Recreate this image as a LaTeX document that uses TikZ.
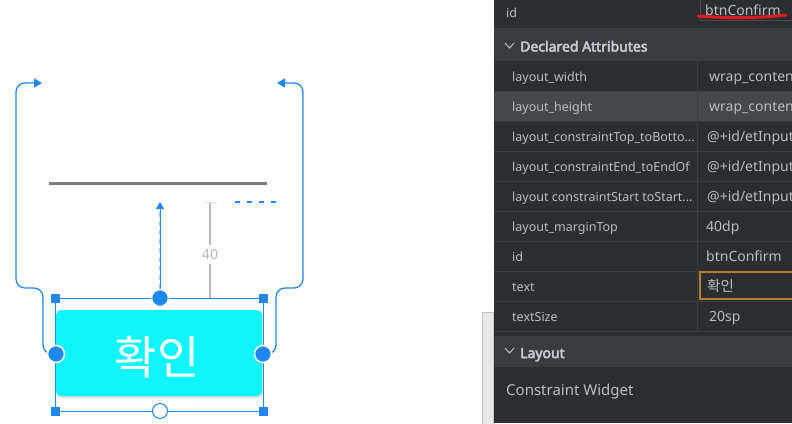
\documentclass[tikz,border=0pt]{standalone}
\usepackage{fontspec}
\setmainfont{Noto Sans}
\newfontfamily\headfont{Noto Sans}[FakeBold=3.5]
\newfontfamily\krfont{Noto Sans CJK KR}
\usetikzlibrary{arrows.meta}

\definecolor{cblue}{HTML}{1E88F0}
\definecolor{btncyan}{HTML}{10F4FC}
\definecolor{panelbg}{HTML}{2B2D30}
\definecolor{headbg}{HTML}{393B3F}
\definecolor{hilite}{HTML}{45474A}
\definecolor{rowline}{HTML}{3A3C40}
\definecolor{labelgray}{HTML}{BCBEC4}
\definecolor{headgray}{HTML}{C8CBD1}
\definecolor{dimgray}{HTML}{B8B8B8}
\definecolor{editgray}{HTML}{7B7B7B}
\definecolor{focusorange}{HTML}{B5802B}
\definecolor{markred}{HTML}{E01B24}

\tikzset{
  cline/.style={draw=cblue, line width=1.3pt},
  anchorpt/.style={circle, fill=cblue, draw=white, line width=1.5pt, inner sep=0pt, minimum size=17pt},
  handle/.style={rectangle, fill=cblue, inner sep=0pt, minimum size=9pt},
  attr/.style={anchor=base west, inner sep=0pt, text=labelgray, font=\fontsize{12.5}{15}\selectfont},
  attrval/.style={anchor=base west, inner sep=0pt, text=labelgray, font=\fontsize{14}{17}\selectfont},
  attrhead/.style={anchor=base west, inner sep=0pt, text=headgray, font=\headfont\fontsize{14}{17}\selectfont},
}

\begin{document}
\begin{tikzpicture}[x=1pt,y=-1pt]
        \useasboundingbox (0,0) rectangle (792,423);
        \fill[white] (0,0) rectangle (792,423);

        % design view
        \coordinate (TC) at (160,298);
        \coordinate (BC) at (160,411);
        \coordinate (LC) at (56,354);
        \coordinate (RC) at (263,354);
        \coordinate (LT) at (42,83);
        \coordinate (RT) at (277,83);
        \coordinate (TA) at (160,202);

        \draw[editgray, line width=3pt] (49,183) -- (267,183);

        \draw[cline, rounded corners=9pt, -{Triangle[length=8pt,width=9pt]}]
        (LC) -- (43,354) -- (43,288) -- (16,288) -- (16,83) -- (LT);
        \draw[cline, rounded corners=9pt, -{Triangle[length=8pt,width=9pt]}]
        (RC) -- (276,354) -- (276,288) -- (303,288) -- (303,83) -- (RT);
        \draw[cblue!45, line width=2pt, dash pattern=on 5pt off 4pt] (TC) -- (160,208);
        \draw[cline, line width=1pt, -{Triangle[length=7pt,width=8pt]}] (TC) -- (TA);

        \coordinate (DT) at (210,202);
        \coordinate (DB) at (210,298);
        \node[text=dimgray, font=\fontsize{14}{16}\selectfont, inner sep=4pt] (dim) at (210,254.5) {40};
        \draw[dimgray, line width=1.1pt] (DT) -- (dim);
        \draw[dimgray, line width=1.1pt] (dim) -- (DB);
        \draw[gray!25, line width=1pt] (204,202) -- (217,202);
        \draw[gray!25, line width=1pt] (204,298) -- (217,298);

        \draw[cblue, line width=1.3pt, dash pattern=on 5pt off 7pt] (235,202) -- (278,202);

        \fill[black, opacity=0.06, rounded corners=6pt] (55,310) rectangle (263.5,399);
        \fill[black, opacity=0.08, rounded corners=5pt] (56,311) rectangle (262.5,397.5);
        \fill[btncyan, rounded corners=5pt] (56,310) rectangle (262,396);
        \node[anchor=base, text=white, inner sep=0pt, font=\krfont\fontsize{46}{50}\selectfont] (btn) at (157,374.5) {확인};

        \draw[cblue, line width=1pt] (55.5,298.5) rectangle (263.5,411);
        \node[handle] (h1) at (55.5,298.5) {};
        \node[handle] (h2) at (263.5,298.5) {};
        \node[handle] (h3) at (55.5,411) {};
        \node[handle] (h4) at (263.5,411) {};
        \node[anchorpt] (tpt) at (TC) {};
        \node[anchorpt] (lpt) at (LC) {};
        \node[anchorpt] (rpt) at (RC) {};
        \node[circle, fill=white, draw=cblue, line width=1pt, inner sep=0pt, minimum size=15pt] (bpt) at (BC) {};

        % scroll strip
        \filldraw[fill=gray!18, draw=gray!45] (482,312) rectangle (493,424);

        % attributes panel
        \fill[panelbg] (494,0) rectangle (792,423);
        \fill[headbg] (494,28) rectangle (792,61);
        \fill[hilite] (494,91) rectangle (792,121);
        \fill[headbg] (494,336) rectangle (792,367);
        \foreach \y in {91,121,151,181,211,241,271,301,331}
        \draw[rowline, line width=1pt] (494,\y) -- (792,\y);
        \draw[rowline, line width=1pt] (697,61) -- (697,331);

        \draw[gray!60!black, line width=0.8pt] (700.5,-1) -- (700.5,20) -- (793,20);
        \node[attr] (idl) at (506,17) {id};
        \node[attrval] (idv) at (705,16) {btnConfirm};
        \draw[markred, line width=3pt, line cap=round] (698,16) .. controls (730,18.5) and (760,18) .. (786,15);

        \draw[labelgray, line width=1pt] (505,43) -- (509.5,48) -- (514,43);
        \node[attrhead] (decl) at (520,51.5) {Declared Attributes};

        \node[attr] (r1) at (512,81.7) {layout\_width};
        \node[attr] (r2) at (512,111.7) {layout\_height};
        \node[attr] (r3) at (512,141.7) {layout\_constraintTop\_toBotto...};
        \node[attr] (r4) at (512,171.7) {layout\_constraintEnd\_toEndOf};
        \node[attr] (r5) at (512,201.7) {layout constraintStart toStart...};
        \node[attr] (r6) at (512,231.7) {layout\_marginTop};
        \node[attr] (r7) at (512,261.7) {id};
        \node[attr] (r8) at (512,291.7) {text};
        \node[attr] (r9) at (512,321.7) {textSize};

        \node[attrval] (v1) at (709,81.7) {wrap\_content};
        \node[attrval] (v2) at (709,111.7) {wrap\_content};
        \node[attrval] (v3) at (707,141.7) {@+id/etInput};
        \node[attrval] (v4) at (707,171.7) {@+id/etInput};
        \node[attrval] (v5) at (707,201.7) {@+id/etInput};
        \node[attrval] (v6) at (706,231.7) {40dp};
        \node[attrval] (v7) at (706,261.7) {btnConfirm};
        \draw[focusorange, line width=2pt] (700,272) rectangle (794,299);
        \node[attrval, font=\krfont\fontsize{14.5}{17}\selectfont] (v8) at (707,291.7) {확인};
        \node[attrval] (v9) at (709,321.7) {20sp};

        \draw[labelgray, line width=1pt] (505,348) -- (509.5,353) -- (514,348);
        \node[attrhead] (lay) at (520,358) {Layout};
        \node[anchor=base west, inner sep=0pt, text=labelgray, font=\fontsize{15}{18}\selectfont] (cw) at (506,395) {Constraint Widget};

    \end{tikzpicture}
\end{document}
